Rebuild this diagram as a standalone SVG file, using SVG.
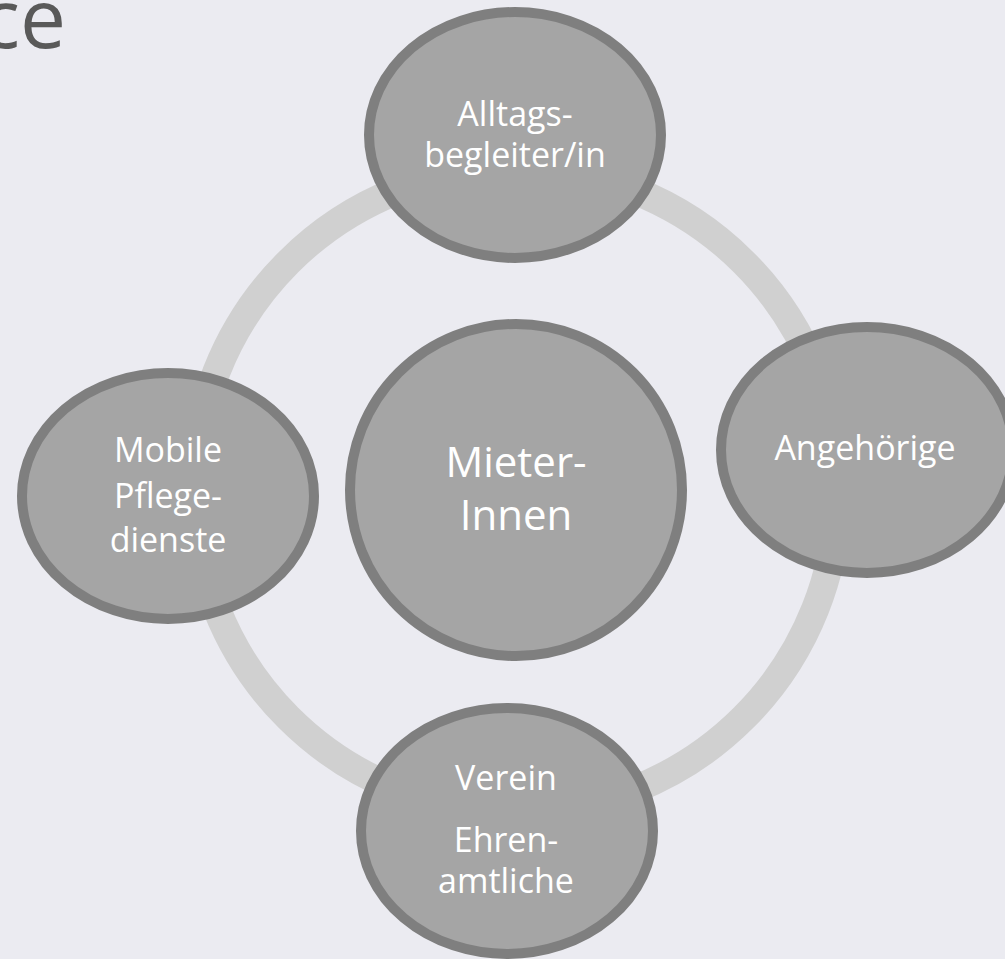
<svg xmlns="http://www.w3.org/2000/svg" width="1005" height="959" viewBox="0 0 1005 959">
<style>
.node{fill:#a5a5a5;stroke:#7f7f7f;stroke-width:10}
.lbl{font-family:"Open Sans","Noto Sans",sans-serif;fill:#ffffff;text-anchor:middle;font-size:34px}
.big{font-size:42px}
.ring{fill:none;stroke:#d0d0d0;stroke-width:28}
</style>
<rect width="1005" height="959" fill="#ebebf1"/>
<text x="66" y="48" font-family="'Open Sans','Noto Sans',sans-serif" font-size="82" fill="#595959" text-anchor="end">ce</text>
<g id="connectors">
<circle class="ring" cx="516" cy="490" r="322"/>
</g>
<g id="center">
<circle class="node" cx="516" cy="490" r="166"/>
<text class="lbl big" x="516" y="477">Mieter-</text>
<text class="lbl big" x="516" y="530">Innen</text>
</g>
<g id="top">
<ellipse class="node" cx="515" cy="135" rx="146" ry="123"/>
<text class="lbl" x="515" y="126">Alltags-</text>
<text class="lbl" x="515" y="167">begleiter/in</text>
</g>
<g id="right">
<ellipse class="node" cx="867" cy="450" rx="146" ry="123"/>
<text class="lbl" x="865" y="460">Angehörige</text>
</g>
<g id="bottom">
<ellipse class="node" cx="507" cy="831" rx="146" ry="123"/>
<text class="lbl" x="506" y="790">Verein</text>
<text class="lbl" x="506" y="852">Ehren-</text>
<text class="lbl" x="506" y="893">amtliche</text>
</g>
<g id="left">
<ellipse class="node" cx="168" cy="496" rx="146" ry="123"/>
<text class="lbl" x="168" y="462">Mobile</text>
<text class="lbl" x="168" y="508">Pflege-</text>
<text class="lbl" x="168" y="552">dienste</text>
</g>
</svg>
